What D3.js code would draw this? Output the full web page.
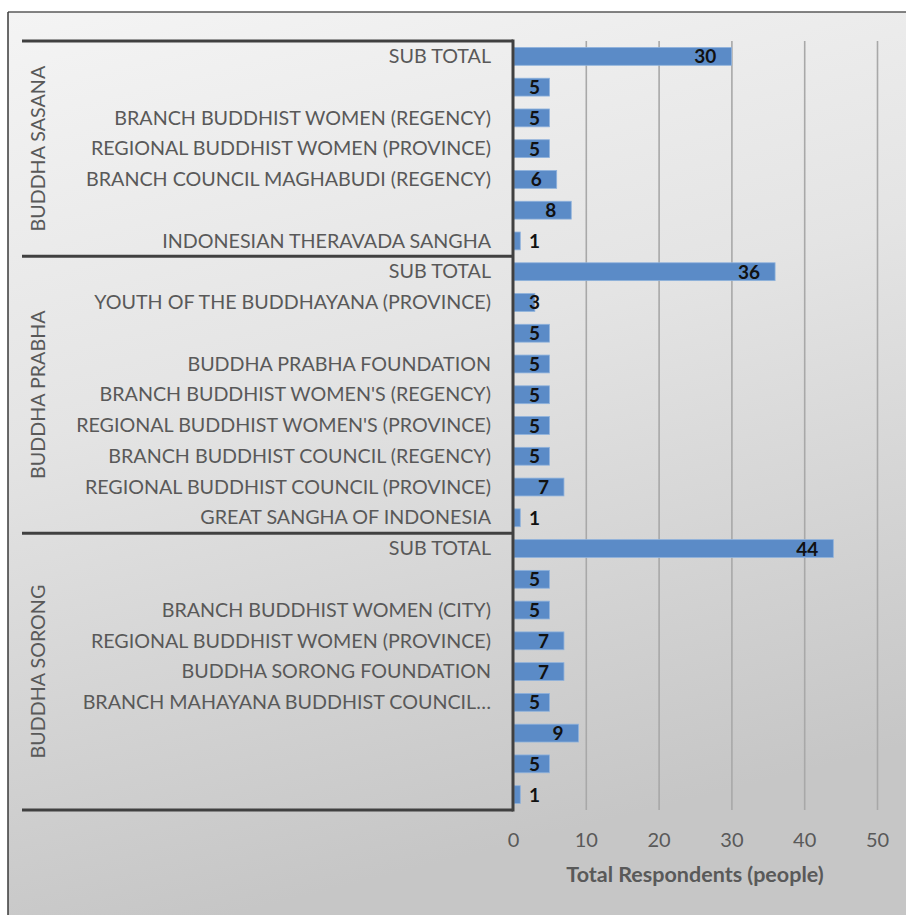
<!DOCTYPE html>
<html>
<head>
<meta charset="utf-8">
<script src="https://cdn.jsdelivr.net/npm/d3@7"></script>
<style>
  html, body { margin: 0; padding: 0; background: #ffffff; }
  svg { display: block; }
</style>
</head>
<body>
<svg id="chart" width="906" height="915"></svg>
<script>
// ---------- DATA ----------
const groups = ["BUDDHA SASANA", "BUDDHA PRABHA", "BUDDHA SORONG"];

const categories = [
  "SUB TOTAL", "", "BRANCH BUDDHIST WOMEN (REGENCY)", "REGIONAL BUDDHIST WOMEN (PROVINCE)",
  "BRANCH COUNCIL MAGHABUDI (REGENCY)", "", "INDONESIAN THERAVADA SANGHA",
  "SUB TOTAL", "YOUTH OF THE BUDDHAYANA (PROVINCE)", "", "BUDDHA PRABHA FOUNDATION",
  "BRANCH BUDDHIST WOMEN'S (REGENCY)", "REGIONAL BUDDHIST WOMEN'S (PROVINCE)",
  "BRANCH BUDDHIST COUNCIL (REGENCY)", "REGIONAL BUDDHIST COUNCIL (PROVINCE)", "GREAT SANGHA OF INDONESIA",
  "SUB TOTAL", "", "BRANCH BUDDHIST WOMEN (CITY)", "REGIONAL BUDDHIST WOMEN (PROVINCE)",
  "BUDDHA SORONG FOUNDATION", "BRANCH MAHAYANA BUDDHIST COUNCIL\u2026", "", "", ""
];

const categoryGroup = [
  0, 0, 0, 0, 0, 0, 0,
  1, 1, 1, 1, 1, 1, 1, 1, 1,
  2, 2, 2, 2, 2, 2, 2, 2, 2
];

const values = [
  30, 5, 5, 5, 6, 8, 1,
  36, 3, 5, 5, 5, 5, 5, 7, 1,
  44, 5, 5, 7, 7, 5, 9, 5, 1
];

const xTicks = [0, 10, 20, 30, 40, 50];
const axisTitle = "Total Respondents (people)";

// ---------- LAYOUT ----------
const W = 906, H = 915;
const plotLeft = 513, plotRight = 877, plotTop = 41, plotBottom = 810;
const boxLeft = 22;
const FONT = "Lato, 'Open Sans', sans-serif";

const svg = d3.select("#chart");

const defs = svg.append("defs");
const grad = defs.append("linearGradient").attr("id", "bg")
  .attr("x1", "0").attr("y1", "0").attr("x2", "0.25").attr("y2", "1");
grad.append("stop").attr("offset", "0%").attr("stop-color", "#f4f4f4");
grad.append("stop").attr("offset", "45%").attr("stop-color", "#e4e4e4");
grad.append("stop").attr("offset", "100%").attr("stop-color", "#c6c6c6");

svg.append("rect").attr("x", 0).attr("y", 0).attr("width", W).attr("height", H).attr("fill", "#ffffff");
svg.append("rect").attr("x", 8).attr("y", 12).attr("width", W - 8).attr("height", H - 12).attr("fill", "url(#bg)");
svg.append("line").attr("x1", 8).attr("x2", W).attr("y1", 12).attr("y2", 12)
  .attr("stroke", "#5a5a5a").attr("stroke-width", 1.5);
svg.append("line").attr("x1", 8).attr("x2", 8).attr("y1", 12).attr("y2", H)
  .attr("stroke", "#3a3a3a").attr("stroke-width", 1.5);

const rows = d3.range(categories.length);

const x = d3.scaleLinear().domain([0, 50]).range([plotLeft, plotRight]);
const y = d3.scaleBand().domain(rows).range([plotTop, plotBottom])
  .paddingInner(0.42).paddingOuter(0.21);

// gridlines
const grid = svg.append("g")
  .attr("transform", `translate(0,${plotBottom})`)
  .call(d3.axisBottom(x).tickValues(xTicks.filter(t => t > 0))
        .tickSize(-(plotBottom - plotTop)).tickFormat(""));
grid.select(".domain").remove();
grid.selectAll(".tick line").attr("stroke", "#a8a8a8").attr("stroke-width", 1.6);

// tick labels
const ax = svg.append("g")
  .attr("transform", `translate(0,${plotBottom})`)
  .call(d3.axisBottom(x).tickValues(xTicks).tickSize(0).tickPadding(23).tickFormat(d3.format("d")));
ax.select(".domain").remove();
ax.selectAll(".tick text")
  .attr("font-family", FONT).attr("font-size", 20)
  .attr("fill", "#595959");

// axis title
svg.append("text")
  .attr("x", 695).attr("y", 882)
  .attr("text-anchor", "middle")
  .attr("font-family", FONT).attr("font-size", 21.5).attr("font-weight", "bold")
  .attr("fill", "#595959")
  .text(axisTitle);

// bars
svg.append("g").selectAll("rect").data(rows).join("rect")
  .attr("x", x(0) + 1)
  .attr("y", i => y(i))
  .attr("width", i => x(values[i]) - x(0) - 1)
  .attr("height", y.bandwidth())
  .attr("fill", "#5b8bc7")
  .attr("stroke", "#8fb2dc").attr("stroke-width", 0.8);

// value labels
svg.append("g").selectAll("text").data(rows).join("text")
  .attr("x", i => Math.max(x(values[i]) - 15, x(0) + 27))
  .attr("y", i => y(i) + y.bandwidth() / 2)
  .attr("dy", "0.37em")
  .attr("text-anchor", "end")
  .attr("font-family", FONT).attr("font-size", 19).attr("font-weight", "bold")
  .attr("fill", "#111111")
  .text(i => values[i]);

// category labels
svg.append("g").selectAll("text").data(rows).join("text")
  .attr("x", 491)
  .attr("y", i => y(i) + y.bandwidth() / 2)
  .attr("dy", "0.34em")
  .attr("text-anchor", "end")
  .attr("font-family", FONT).attr("font-size", 19.7)
  .attr("fill", "#595959")
  .text(i => categories[i]);

// group boxes
const groupBounds = groups.map((g, gi) => {
  const idx = rows.filter(i => categoryGroup[i] === gi);
  const top = y(idx[0]) - y.step() * y.paddingInner() / 2;
  const bottom = y(idx[idx.length - 1]) + y.bandwidth() + y.step() * y.paddingInner() / 2;
  return { name: g, top, bottom };
});
const sepYs = [plotTop, ...groupBounds.map(b => b.bottom)];
svg.append("g").selectAll("line").data(sepYs).join("line")
  .attr("x1", boxLeft).attr("x2", plotLeft)
  .attr("y1", d => d).attr("y2", d => d)
  .attr("stroke", "#404040").attr("stroke-width", 3);
svg.append("line")
  .attr("x1", plotLeft).attr("x2", plotLeft)
  .attr("y1", plotTop - 1.5).attr("y2", plotBottom + 1.5)
  .attr("stroke", "#404040").attr("stroke-width", 3);

// group labels
svg.append("g").selectAll("text").data(groupBounds).join("text")
  .attr("transform", d => `translate(38,${(d.top + d.bottom) / 2}) rotate(-90)`)
  .attr("dy", "0.36em")
  .attr("text-anchor", "middle")
  .attr("font-family", FONT).attr("font-size", 19.7)
  .attr("fill", "#595959")
  .text(d => d.name);
</script>
</body>
</html>
